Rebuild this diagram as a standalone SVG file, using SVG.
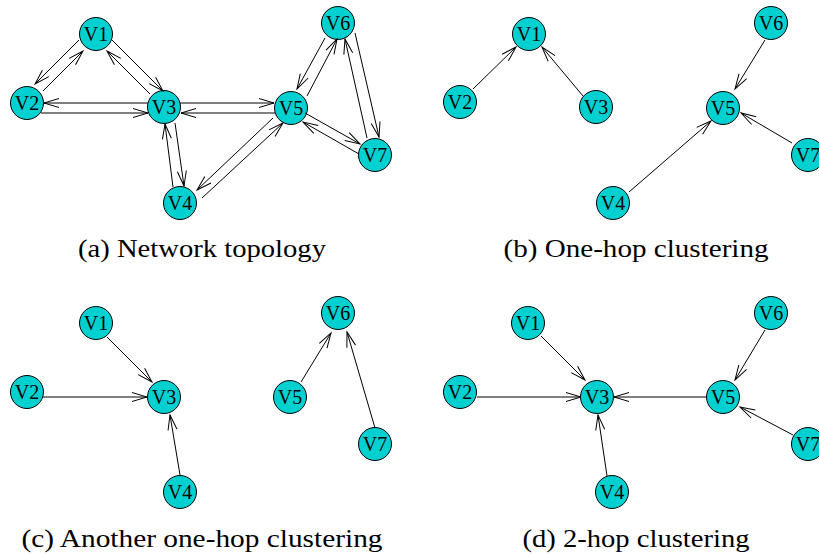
<svg xmlns="http://www.w3.org/2000/svg" width="819" height="554" viewBox="0 0 819 554">
<style>
.n circle{fill:#00D0D0;stroke:#000;stroke-width:1}
.n text{font-family:'Liberation Serif','Times New Roman',serif;font-size:20px;text-anchor:middle;fill:#000}
.e path{fill:none;stroke:#000;stroke-width:1;marker-end:url(#arr)}
.cap{font-family:'Liberation Serif','Times New Roman',serif;font-size:26px;text-anchor:middle;fill:#000}
</style>
<defs>
<marker id="arr" markerUnits="userSpaceOnUse" viewBox="-16 -6 17 12" refX="0" refY="0" markerWidth="17" markerHeight="12" orient="auto" overflow="visible">
<path d="M-15,-4.5 L0,0 L-15,4.5" fill="none" stroke="#000" stroke-width="1"/>
</marker>
</defs>
<rect width="819" height="554" fill="#fff"/>
<!-- Panel (a) nodes -->
<g id="a-v1" class="n"><circle cx="96" cy="34" r="16.5"/><text x="96" y="41">V1</text></g>
<g id="a-v2" class="n"><circle cx="27" cy="103" r="16.5"/><text x="27" y="110">V2</text></g>
<g id="a-v3" class="n"><circle cx="164" cy="107" r="16.5"/><text x="164" y="114">V3</text></g>
<g id="a-v4" class="n"><circle cx="180" cy="203" r="16.5"/><text x="180" y="210">V4</text></g>
<g id="a-v5" class="n"><circle cx="291" cy="108" r="16.5"/><text x="291" y="115">V5</text></g>
<g id="a-v6" class="n"><circle cx="338" cy="23" r="16.5"/><text x="338" y="30">V6</text></g>
<g id="a-v7" class="n"><circle cx="375" cy="155" r="16.5"/><text x="375" y="162">V7</text></g>

<!-- Panel (b) nodes -->
<g id="b-v1" class="n"><circle cx="529" cy="34" r="16.5"/><text x="529" y="41">V1</text></g>
<g id="b-v2" class="n"><circle cx="460" cy="102" r="16.5"/><text x="460" y="109">V2</text></g>
<g id="b-v3" class="n"><circle cx="596" cy="107" r="16.5"/><text x="596" y="114">V3</text></g>
<g id="b-v4" class="n"><circle cx="613" cy="203" r="16.5"/><text x="613" y="210">V4</text></g>
<g id="b-v5" class="n"><circle cx="723" cy="108" r="16.5"/><text x="723" y="115">V5</text></g>
<g id="b-v6" class="n"><circle cx="771" cy="23" r="16.5"/><text x="771" y="30">V6</text></g>
<g id="b-v7" class="n"><circle cx="808" cy="155" r="16.5"/><text x="808" y="162">V7</text></g>

<!-- Panel (c) nodes -->
<g id="c-v1" class="n"><circle cx="96" cy="323" r="16.5"/><text x="96" y="330">V1</text></g>
<g id="c-v2" class="n"><circle cx="27" cy="392" r="16.5"/><text x="27" y="399">V2</text></g>
<g id="c-v3" class="n"><circle cx="164" cy="397" r="16.5"/><text x="164" y="404">V3</text></g>
<g id="c-v4" class="n"><circle cx="180" cy="492" r="16.5"/><text x="180" y="499">V4</text></g>
<g id="c-v5" class="n"><circle cx="290" cy="397" r="16.5"/><text x="290" y="404">V5</text></g>
<g id="c-v6" class="n"><circle cx="338" cy="313" r="16.5"/><text x="338" y="320">V6</text></g>
<g id="c-v7" class="n"><circle cx="375" cy="444" r="16.5"/><text x="375" y="451">V7</text></g>

<!-- Panel (d) nodes -->
<g id="d-v1" class="n"><circle cx="528" cy="323" r="16.5"/><text x="528" y="330">V1</text></g>
<g id="d-v2" class="n"><circle cx="460" cy="392" r="16.5"/><text x="460" y="399">V2</text></g>
<g id="d-v3" class="n"><circle cx="597" cy="397" r="16.5"/><text x="597" y="404">V3</text></g>
<g id="d-v4" class="n"><circle cx="612" cy="492" r="16.5"/><text x="612" y="499">V4</text></g>
<g id="d-v5" class="n"><circle cx="723" cy="397" r="16.5"/><text x="723" y="404">V5</text></g>
<g id="d-v6" class="n"><circle cx="771" cy="313" r="16.5"/><text x="771" y="320">V6</text></g>
<g id="d-v7" class="n"><circle cx="808" cy="444" r="16.5"/><text x="808" y="451">V7</text></g>

<text class="cap" x="202" y="257" textLength="248" lengthAdjust="spacingAndGlyphs">(a) Network topology</text>
<text class="cap" x="636" y="257" textLength="265" lengthAdjust="spacingAndGlyphs">(b) One-hop clustering</text>
<text class="cap" x="202" y="547" textLength="361" lengthAdjust="spacingAndGlyphs">(c) Another one-hop clustering</text>
<text class="cap" x="636" y="547" textLength="227" lengthAdjust="spacingAndGlyphs">(d) 2-hop clustering</text>

<g id="connectors" class="e">
<!-- (a) -->
<path d="M79,40 L35,84"/>
<path d="M43,91 L83,51"/>
<path d="M111,39 L163,91"/>
<path d="M150,94 L107,51"/>
<path d="M148,103 L44,103"/>
<path d="M41,113 L148,113"/>
<path d="M180,103 L274,103"/>
<path d="M275,113 L181,113"/>
<path d="M173,187 L165,124"/>
<path d="M175,123 L184,186"/>
<path d="M273,118 L197,190"/>
<path d="M202,198 L283,123"/>
<path d="M325,38 L297,89"/>
<path d="M307,96 L337,39"/>
<path d="M367,138 L345,39"/>
<path d="M355,33 L379,137"/>
<path d="M305,113 L360,144"/>
<path d="M359,154 L303,122"/>
<!-- (b) -->
<path d="M473,89 L516,47"/>
<path d="M583,96 L542,47"/>
<path d="M765,40 L735,89"/>
<path d="M629,192 L711,121"/>
<path d="M792,143 L741,113"/>
<!-- (c) -->
<path d="M107,337 L152,382"/>
<path d="M43,397 L147,397"/>
<path d="M180,475 L170,415"/>
<path d="M301,382 L331,333"/>
<path d="M375,428 L347,332"/>
<!-- (d) -->
<path d="M541,336 L585,380"/>
<path d="M477,397 L581,397"/>
<path d="M607,476 L598,415"/>
<path d="M707,397 L614,397"/>
<path d="M765,330 L735,380"/>
<path d="M793,435 L740,407"/>
</g>
</svg>
